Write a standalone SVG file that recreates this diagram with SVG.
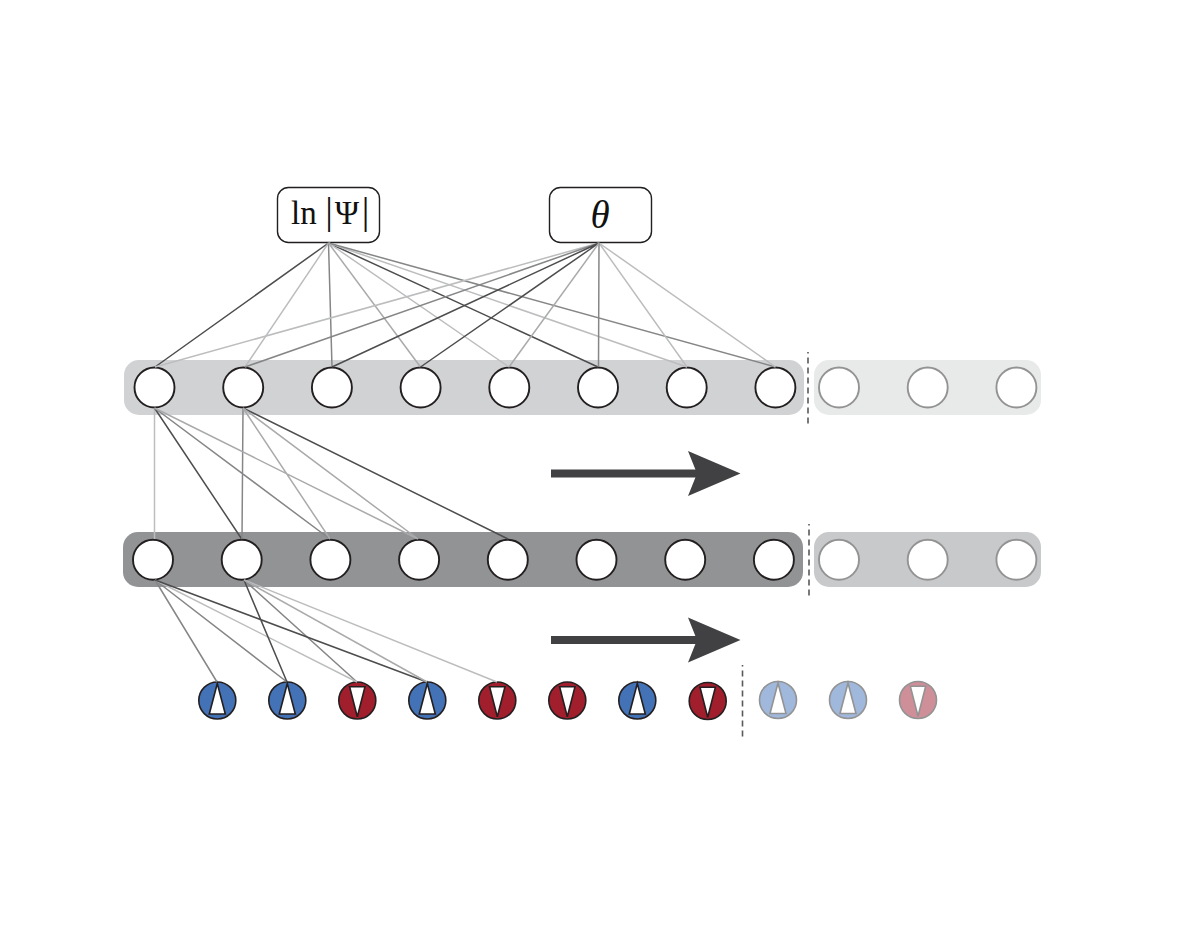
<svg xmlns="http://www.w3.org/2000/svg" width="1195" height="935" viewBox="0 0 1195 935">
<style>
.n{fill:#fff;stroke:#231f20;stroke-width:1.9}
.g{fill:#fff;stroke:#939393;stroke-width:1.9}
.box{fill:#fff;stroke:#231f20;stroke-width:1.4}
.d{stroke:#4d4d4f;stroke-width:1.5;fill:none}
.m{stroke:#858687;stroke-width:1.5;fill:none}
.l{stroke:#a9aaac;stroke-width:1.5;fill:none}
.v{stroke:#bcbdbf;stroke-width:1.5;fill:none}
.dash{stroke:#58595b;stroke-width:1.6;stroke-dasharray:1.5 4 6 4 6 4 6 4 6 4 6 4 6 4 6 4 1.5;fill:none}
.t{fill:#fff;stroke:#231f20;stroke-width:1.6;stroke-linejoin:miter}
.tg{fill:#fff;stroke:#939393;stroke-width:1.6}
.b{fill:#4472b6;stroke:#231f20;stroke-width:1.6}
.r{fill:#a11e2d;stroke:#231f20;stroke-width:1.6}
.bg{fill:#a0b8dc;stroke:#939393;stroke-width:1.6}
.rg{fill:#cf8f99;stroke:#939393;stroke-width:1.6}
.arrow{fill:#414042}
.math{font-family:"Liberation Serif",serif;fill:#111}
</style>
<defs>
<g id="up"><polygon points="0,-17 8,13.5 -8,13.5"/></g>
<g id="down"><polygon points="-7.7,-13.7 7.7,-13.7 0,16.3"/></g>
</defs>
<g id="bands">
<rect x="124" y="360" width="680" height="55" rx="15" fill="#d1d2d4"/>
<rect x="814" y="360" width="227" height="55" rx="15" fill="#e8e9e9"/>
<rect x="123" y="532" width="680" height="55" rx="15" fill="#929395"/>
<rect x="814" y="532" width="227" height="55" rx="15" fill="#c8c9cb"/>
</g>
<g id="box-ln-psi">
<rect class="box" x="277.500" y="187.500" width="102" height="55" rx="11"/>
<text class="math" x="291" y="223.500" font-size="33">ln</text>
<text class="math" x="329" y="224" font-size="38" text-anchor="middle">|</text>
<text class="math" x="347" y="223.500" font-size="33" text-anchor="middle">Ψ</text>
<text class="math" x="365.500" y="224" font-size="38" text-anchor="middle">|</text>
</g>
<g id="box-theta">
<rect class="box" x="549.500" y="187.500" width="102" height="55" rx="11"/>
<text class="math" x="600" y="228" font-size="39" font-style="italic" text-anchor="middle">θ</text>
</g>
<g id="layer-1">
<circle id="a1" class="n" cx="154.500" cy="387.500" r="20"/>
<circle id="a2" class="n" cx="243.200" cy="387.500" r="20"/>
<circle id="a3" class="n" cx="331.900" cy="387.500" r="20"/>
<circle id="a4" class="n" cx="420.600" cy="387.500" r="20"/>
<circle id="a5" class="n" cx="509.300" cy="387.500" r="20"/>
<circle id="a6" class="n" cx="598" cy="387.500" r="20"/>
<circle id="a7" class="n" cx="686.700" cy="387.500" r="20"/>
<circle id="a8" class="n" cx="775.400" cy="387.500" r="20"/>
<circle id="a9" class="g" cx="839" cy="387.500" r="20"/>
<circle id="a10" class="g" cx="927.700" cy="387.500" r="20"/>
<circle id="a11" class="g" cx="1016.400" cy="387.500" r="20"/>
</g>
<g id="layer-2">
<circle id="b1" class="n" cx="153" cy="559.700" r="20"/>
<circle id="b2" class="n" cx="241.700" cy="559.700" r="20"/>
<circle id="b3" class="n" cx="330.400" cy="559.700" r="20"/>
<circle id="b4" class="n" cx="419.100" cy="559.700" r="20"/>
<circle id="b5" class="n" cx="507.800" cy="559.700" r="20"/>
<circle id="b6" class="n" cx="596.500" cy="559.700" r="20"/>
<circle id="b7" class="n" cx="685.200" cy="559.700" r="20"/>
<circle id="b8" class="n" cx="773.900" cy="559.700" r="20"/>
<circle id="b9" class="g" cx="839" cy="559.700" r="20"/>
<circle id="b10" class="g" cx="927.700" cy="559.700" r="20"/>
<circle id="b11" class="g" cx="1016.400" cy="559.700" r="20"/>
</g>
<g id="spins">
<g id="s1"><circle class="b" cx="217.300" cy="700.500" r="18.500"/><use href="#up" class="t" x="217.300" y="700.500"/></g>
<g id="s2"><circle class="b" cx="287.300" cy="700.500" r="18.500"/><use href="#up" class="t" x="287.300" y="700.500"/></g>
<g id="s3"><circle class="r" cx="357.300" cy="700.500" r="18.500"/><use href="#down" class="t" x="357.300" y="700.500"/></g>
<g id="s4"><circle class="b" cx="427.300" cy="700.500" r="18.500"/><use href="#up" class="t" x="427.300" y="700.500"/></g>
<g id="s5"><circle class="r" cx="497.300" cy="700.500" r="18.500"/><use href="#down" class="t" x="497.300" y="700.500"/></g>
<g id="s6"><circle class="r" cx="567.300" cy="700.500" r="18.500"/><use href="#down" class="t" x="567.300" y="700.500"/></g>
<g id="s7"><circle class="b" cx="637.300" cy="700.500" r="18.500"/><use href="#up" class="t" x="637.300" y="700.500"/></g>
<g id="s8"><circle class="r" cx="707.700" cy="701" r="18.500"/><use href="#down" class="t" x="707.700" y="701"/></g>
<g id="s9"><circle class="bg" cx="778" cy="700" r="18.500"/><use href="#up" class="tg" x="778" y="700"/></g>
<g id="s10"><circle class="bg" cx="848" cy="700" r="18.500"/><use href="#up" class="tg" x="848" y="700"/></g>
<g id="s11"><circle class="rg" cx="918" cy="700" r="18.500"/><use href="#down" class="tg" x="918" y="700"/></g>
</g>
<g id="connectors">
<path class="d" d="M328.500 243L155 367M328.500 243L598 367"/>
<path class="v" d="M328.500 243L245 367M328.500 243L509 367M328.500 243L687 367"/>
<path class="m" d="M328.500 243L332 367M328.500 243L775.500 367"/>
<path class="l" d="M328.500 243L420.500 367"/>
<path class="v" d="M599 243L155 367M599 243L687 367M599 243L775.500 367"/>
<path class="m" d="M599 243L245 367M599 243L598.500 367"/>
<path class="d" d="M599 243L332 367M599 243L420.500 367"/>
<path class="l" d="M599 243L509 367"/>
<path class="v" d="M154.500 408L154.500 539"/>
<path class="d" d="M154.500 408L241.700 539M243 408L508 539"/>
<path class="m" d="M154.500 408L330 539M243 408L242 539"/>
<path class="l" d="M154.500 408L418 539M243 408L330 539M243 408L418 539"/>
<path class="m" d="M155 580L217 682M155 580L287 682M244 580L357 682"/>
<path class="v" d="M155 580L357 682M244 580L497 682"/>
<path class="d" d="M155 580L427 682M244 580L287 682"/>
<path class="l" d="M244 580L427 682"/>
</g>
<g id="dividers">
<path class="dash" d="M808 352V424"/>
<path class="dash" d="M809 524V596"/>
<path class="dash" d="M742.500 665V738"/>
</g>
<g id="arrow-1"><rect class="arrow" x="551" y="469.500" width="148" height="8"/><polygon class="arrow" points="688,451 740.500,473.500 688,496 697,473.500"/></g>
<g id="arrow-2"><rect class="arrow" x="551" y="636" width="148" height="8"/><polygon class="arrow" points="688,617.500 740.500,640 688,662.500 697,640"/></g>
</svg>
